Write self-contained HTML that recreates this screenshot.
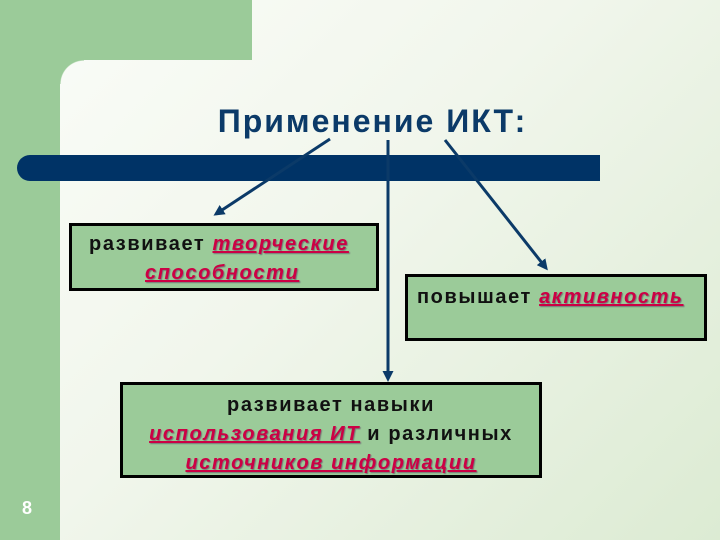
<!DOCTYPE html>
<html><head><meta charset="utf-8"><style>
body{margin:0;width:720px;height:540px;position:relative;overflow:hidden;font-family:"Liberation Sans",sans-serif;background:linear-gradient(135deg,#fbfdf9 0%,#f1f6ec 45%,#dcebd3 100%);}
.g{position:absolute;background:#9bcb99}
.box{position:absolute;background:#9bcb99;border:3px solid #000;box-sizing:border-box;font-size:20px;letter-spacing:1.6px;font-weight:bold;color:#111;line-height:29px;white-space:nowrap}
.r{color:#cc0044;font-style:italic;text-decoration:underline;text-shadow:1px 1px 1px #777}
</style></head><body>
<div class="g" style="left:0;top:0;width:60px;height:540px"></div>
<div class="g" style="left:0;top:0;width:252px;height:60px"></div>
<div style="position:absolute;left:60px;top:60px;width:24px;height:24px;background:radial-gradient(circle at 100% 100%,rgba(0,0,0,0) 23px,#9bcb99 24px)"></div>
<div style="position:absolute;left:22px;top:498px;color:#fff;font-weight:bold;font-size:18px">8</div>
<div style="position:absolute;left:0;width:745px;top:103px;text-align:center;font-size:32px;letter-spacing:2px;font-weight:bold;color:#0b3a68">Применение ИКТ:</div>
<div style="position:absolute;left:17px;top:155px;width:583px;height:26px;background:#003366;border-radius:13px 0 0 13px"></div>
<svg width="720" height="540" style="position:absolute;left:0;top:0">
<defs><marker id="a" markerWidth="11" markerHeight="11" refX="8" refY="5.5" orient="auto" markerUnits="userSpaceOnUse"><path d="M0,0L11,5.5L0,11z" fill="#0b3a68"/></marker></defs>
<g stroke="#0b3a68" stroke-width="3" fill="none">
<line x1="330" y1="139" x2="216" y2="214" marker-end="url(#a)"/>
<line x1="388" y1="140" x2="388" y2="379" marker-end="url(#a)"/>
<line x1="445" y1="140" x2="546" y2="268" marker-end="url(#a)"/>
</g></svg>
<div class="box" style="left:69px;top:223px;width:310px;height:68px;padding:4px 0 0 17px">развивает <span class="r">творческие</span><br><span style="margin-left:56px" class="r">способности</span></div>
<div class="box" style="left:405px;top:274px;width:302px;height:67px;padding:6px 0 0 9px">повышает <span class="r">активность</span></div>
<div class="box" style="left:120px;top:382px;width:422px;height:96px;padding:6px 0 0 0;text-align:center">развивает навыки<br><span class="r">использования ИТ</span> и различных<br><span class="r">источников информации</span></div>
</body></html>
